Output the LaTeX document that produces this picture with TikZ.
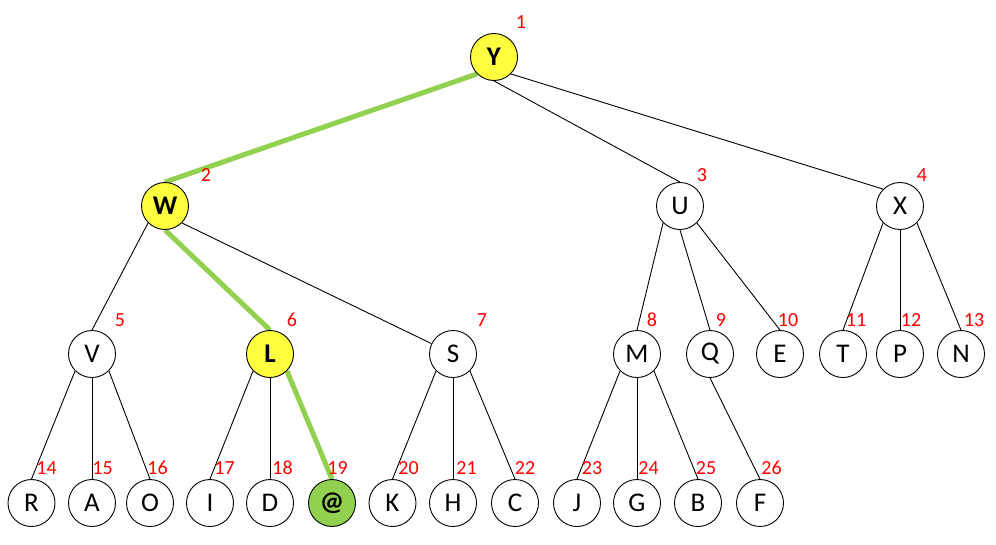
\documentclass[tikz,border=0pt]{standalone}
\usepackage{fontspec}
\setmainfont{Carlito}
\usetikzlibrary{backgrounds}
\definecolor{hlgreen}{HTML}{92D050}
\definecolor{hlyellow}{HTML}{FFFF40}
\tikzset{
  vert/.style={circle, draw=black, line width=0.9pt, minimum size=47pt, inner sep=0pt,
    fill=white, font=\fontsize{27}{27}\selectfont},
  hlvert/.style={vert, fill=hlyellow, font=\fontsize{27}{27}\selectfont\bfseries},
  goalvert/.style={vert, fill=hlgreen, font=\fontsize{27}{27}\selectfont\bfseries},
  num/.style={text=red, inner sep=0pt, font=\fontsize{20}{20}\selectfont},
  treeedge/.style={draw=black, line width=0.9pt},
  hledge/.style={draw=hlgreen, line width=5pt}
}
\begin{document}
\begin{tikzpicture}[x=1pt,y=-1pt]
\useasboundingbox (0,0) rectangle (996,544);
% level 0/1
\node[hlvert] (nY) at (494,57) {Y};
\node[hlvert] (nW) at (165,206) {W};
\node[vert] (nU) at (680,206) {U};
\node[vert] (nX) at (900,206) {X};
% level 2
\node[vert] (nV) at (92,354) {V};
\node[hlvert] (nL) at (270,354) {L};
\node[vert] (nS) at (453,354) {S};
\node[vert] (nM) at (637,354) {M};
\node[vert] (nQ) at (710,354) {Q};
\node[vert] (nE) at (780,354) {E};
\node[vert] (nT) at (843,354) {T};
\node[vert] (nP) at (900,354) {P};
\node[vert] (nN) at (961,354) {N};
% level 3
\node[vert] (nR) at (31.5,503) {R};
\node[vert] (nA) at (92,503) {A};
\node[vert] (nO) at (150,503) {O};
\node[vert] (nI) at (210,503) {I};
\node[vert] (nD) at (270,503) {D};
\node[goalvert] (nGoal) at (332,503) {@};
\node[vert] (nK) at (392.5,503) {K};
\node[vert] (nH) at (453,503) {H};
\node[vert] (nC) at (515,503) {C};
\node[vert] (nJ) at (577,503) {J};
\node[vert] (nG) at (637,503) {G};
\node[vert] (nB) at (698,503) {B};
\node[vert] (nF) at (760,503) {F};
% labels
\node[num] (l1) at (521,22) {1};
\node[num] (l2) at (206,175) {2};
\node[num] (l3) at (702,175) {3};
\node[num] (l4) at (922,175) {4};
\node[num] (l5) at (120,320) {5};
\node[num] (l6) at (292,320) {6};
\node[num] (l7) at (482,320) {7};
\node[num] (l8) at (652,320) {8};
\node[num] (l9) at (721,320) {9};
\node[num] (l10) at (788,320) {10};
\node[num] (l11) at (856,320) {11};
\node[num] (l12) at (911,320) {12};
\node[num] (l13) at (974,320) {13};
\node[num] (l14) at (46.5,468) {14};
\node[num] (l15) at (102.5,468) {15};
\node[num] (l16) at (157.5,468) {16};
\node[num] (l17) at (224.5,468) {17};
\node[num] (l18) at (282.5,468) {18};
\node[num] (l19) at (337.5,468) {19};
\node[num] (l20) at (408.5,468) {20};
\node[num] (l21) at (466.5,468) {21};
\node[num] (l22) at (525,468) {22};
\node[num] (l23) at (592,468) {23};
\node[num] (l24) at (648.5,468) {24};
\node[num] (l25) at (706,468) {25};
\node[num] (l26) at (771.5,468) {26};
% edges
\begin{scope}[on background layer]
  \draw[hledge] (nY.south west) -- (nW.north);
  \draw[treeedge] (nY.south) -- (nU.north);
  \draw[treeedge] (nY.south east) -- (nX.north west);
  \draw[treeedge] (nW.south west) -- (nV.north);
  \draw[hledge] (nW.south) -- (nL.north);
  \draw[treeedge] (nW.south east) -- (nS);
  \draw[treeedge] (nU.south west) -- (nM.north);
  \draw[treeedge] (nU.south) -- (nQ.north);
  \draw[treeedge] (nU.south east) -- (nE.north);
  \draw[treeedge] (nX.south west) -- (nT.north);
  \draw[treeedge] (nX.south) -- (nP.north);
  \draw[treeedge] (nX.south east) -- (nN.north);
  \draw[treeedge] (nV.south west) -- (nR.north);
  \draw[treeedge] (nV.south) -- (nA.north);
  \draw[treeedge] (nV.south east) -- (nO.north);
  \draw[treeedge] (nL.south west) -- (nI.north);
  \draw[treeedge] (nL.south) -- (nD.north);
  \draw[hledge] (nL.south east) -- (nGoal.north);
  \draw[treeedge] (nS.south west) -- (nK.north);
  \draw[treeedge] (nS.south) -- (nH.north);
  \draw[treeedge] (nS.south east) -- (nC.north);
  \draw[treeedge] (nM.south west) -- (nJ.north);
  \draw[treeedge] (nM.south) -- (nG.north);
  \draw[treeedge] (nM.south east) -- (nB.north);
  \draw[treeedge] (nQ.south) -- (nF.north);
\end{scope}
\end{tikzpicture}
\end{document}
